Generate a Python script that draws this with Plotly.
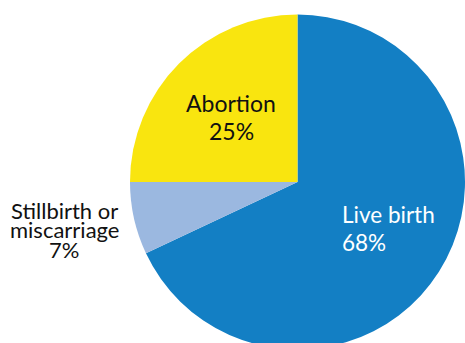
import plotly.graph_objects as go

# Pregnancy outcomes, clockwise from 12 o'clock
labels = ["Live birth", "Stillbirth or miscarriage", "Abortion"]
shares = [68, 7, 25]
colors = ["#137FC4", "#9BB8E0", "#F9E50F"]

W, H = 465, 360
FONT = "Lato"


def py(y_px):
    """Convert a pixel row (from the top) to paper coordinates."""
    return 1 - y_px / H


def px(x_px):
    return x_px / W


fig = go.Figure(
    go.Pie(
        labels=labels,
        values=shares,
        sort=False,
        direction="clockwise",
        rotation=0,
        marker=dict(colors=colors, line=dict(width=0)),
        textinfo="none",
        hoverinfo="label+percent",
        showlegend=False,
        domain=dict(x=[130 / W, 1.0], y=[py(350), py(14)]),
    )
)

pct = {lab: f"{v}%" for lab, v in zip(labels, shares)}

annotations = []


def add_lines(lines, x, y_first, pitch, align, color, size):
    xanchor = {"center": "center", "left": "left"}[align]
    for i, line in enumerate(lines):
        annotations.append(
            dict(
                text=line,
                x=px(x),
                y=py(y_first + i * pitch),
                xref="paper",
                yref="paper",
                xanchor=xanchor,
                yanchor="middle",
                showarrow=False,
                font=dict(family=FONT, size=size, color=color),
            )
        )


# Abortion label inside the yellow slice
add_lines(["Abortion", pct["Abortion"]], 231, 103, 28, "center", "#111111", 23)
# Live birth label inside the blue slice
add_lines(["Live birth", pct["Live birth"]], 340, 214, 28, "left", "#FFFFFF", 22.5)
# Stillbirth label beside the pie
add_lines(["Stillbirth or", "miscarriage", pct["Stillbirth or miscarriage"]],
          64, 210, 19.5, "center", "#111111", 22)

fig.update_layout(
    width=W,
    height=H,
    margin=dict(l=0, r=0, t=0, b=0),
    paper_bgcolor="white",
    plot_bgcolor="white",
    annotations=annotations,
)

fig.write_html("out.html", post_script="document.body.style.overflow='hidden';")
